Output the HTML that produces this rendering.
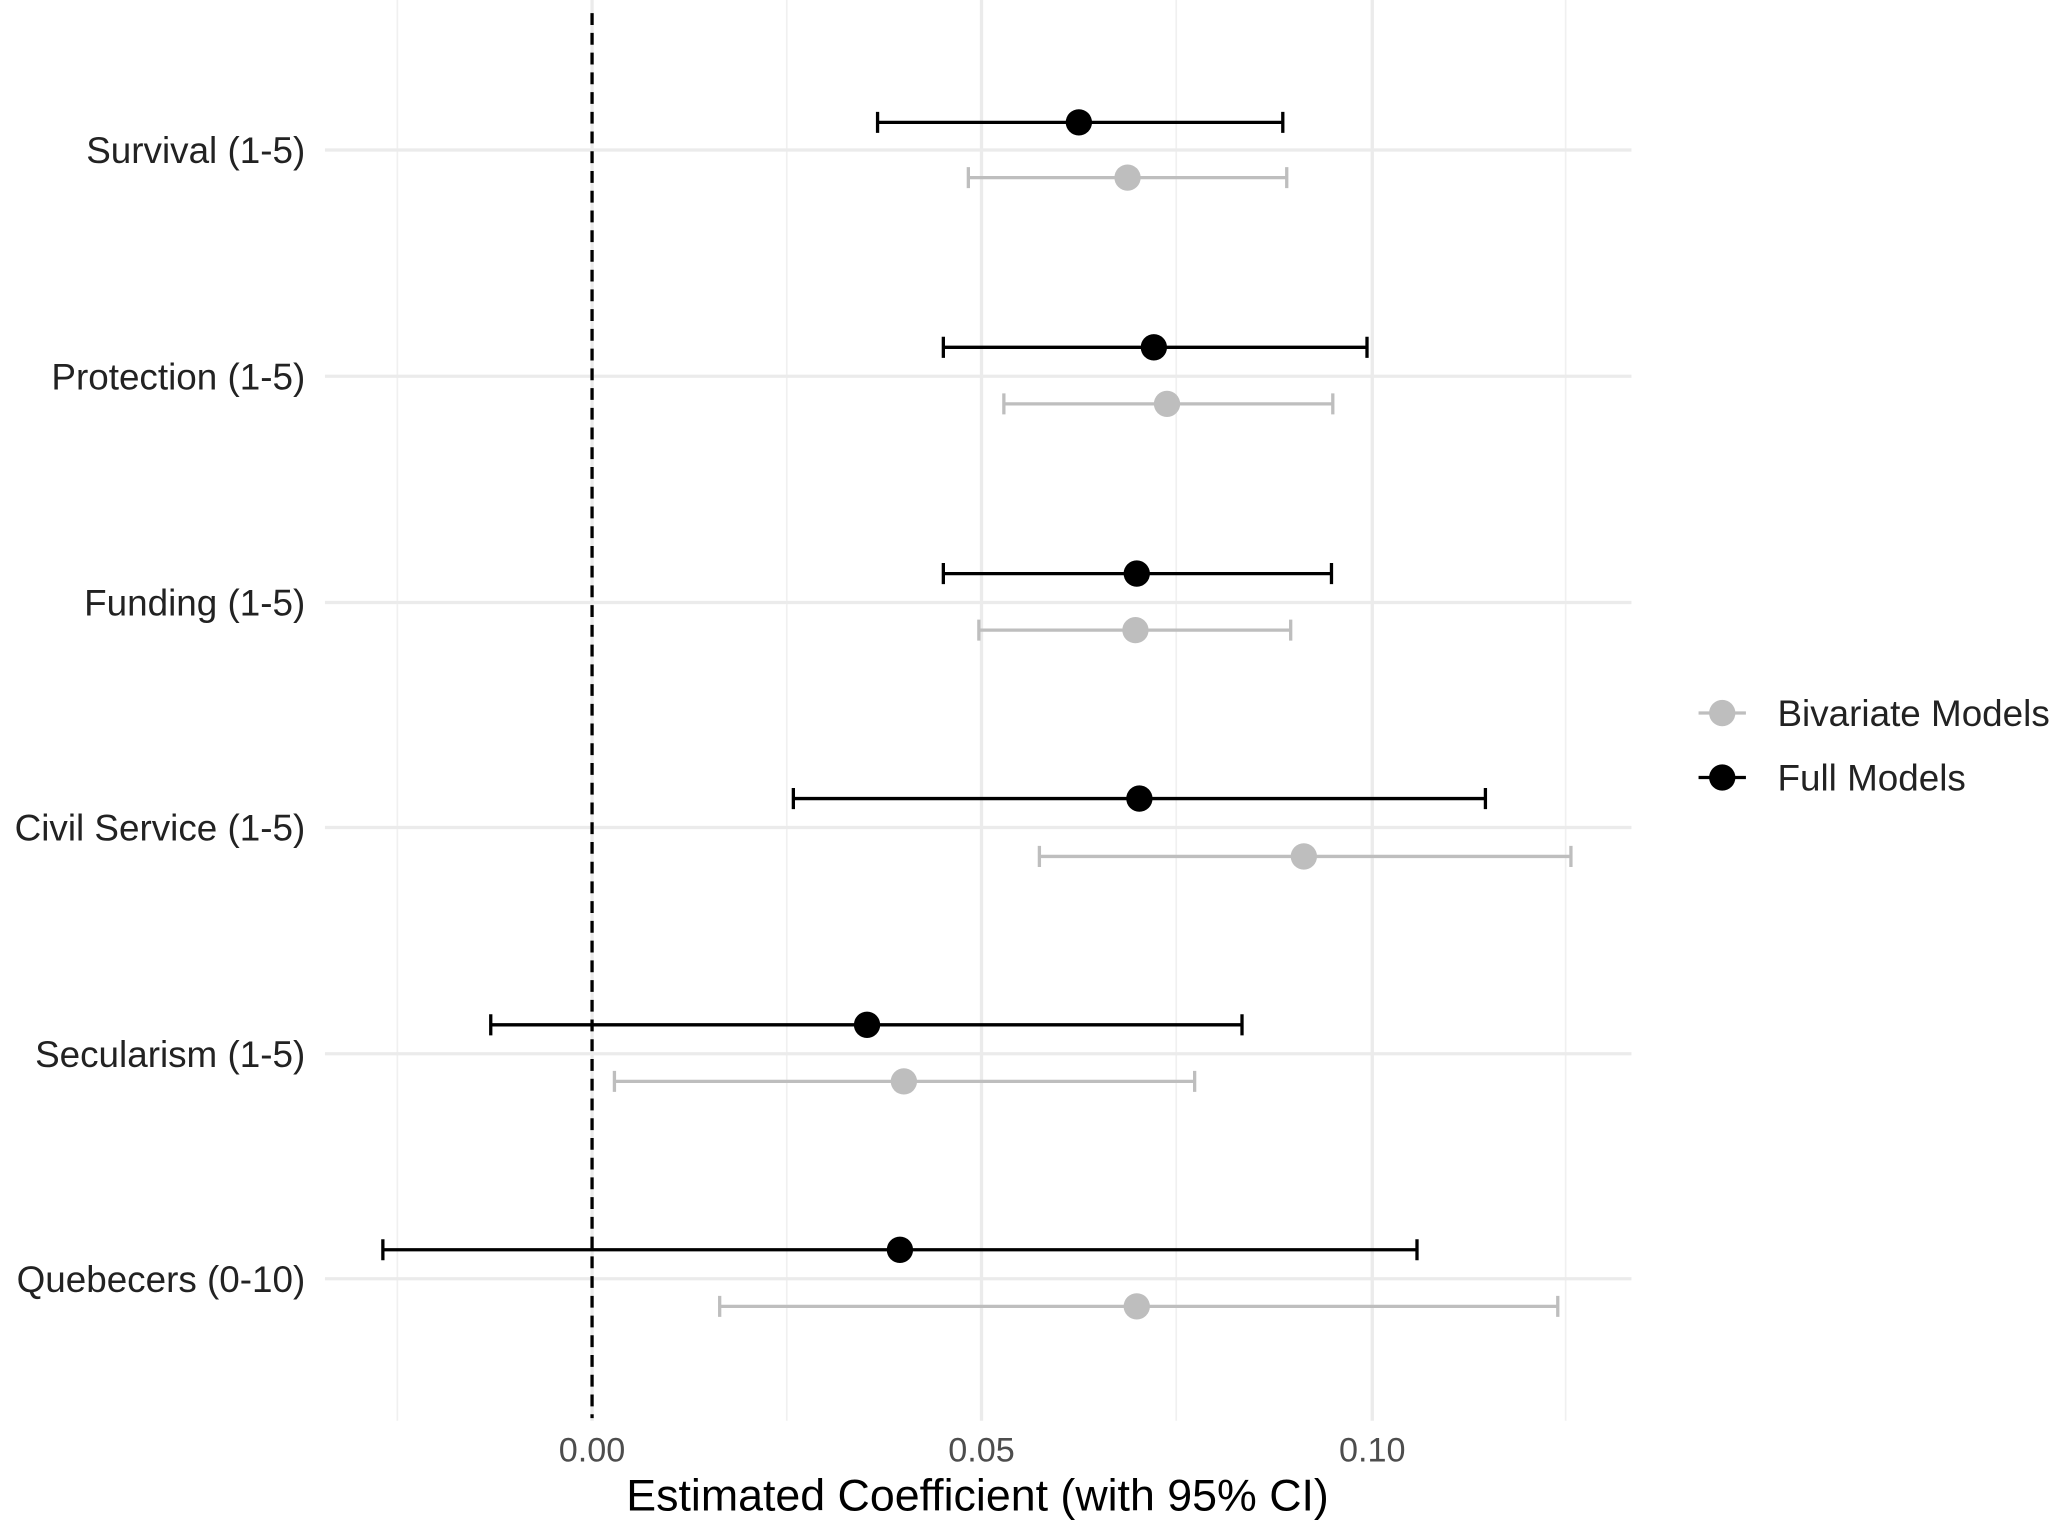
<!DOCTYPE html>
<html><head><meta charset="utf-8"><style>
html,body{margin:0;padding:0;background:#fff;}
svg{display:block;}
text{font-family:"Liberation Sans",sans-serif;}
</style></head><body>
<svg width="2063" height="1530" viewBox="0 0 1568 1163" preserveAspectRatio="none" xmlns="http://www.w3.org/2000/svg">
<rect width="1568" height="1163" fill="#fff"/>
<g stroke="#f0f0f0" stroke-width="1.3">
<line x1="302" y1="0" x2="302" y2="1080"/><line x1="598" y1="0" x2="598" y2="1080"/>
<line x1="894" y1="0" x2="894" y2="1080"/><line x1="1190" y1="0" x2="1190" y2="1080"/>
</g>
<g stroke="#ebebeb" stroke-width="2.5">
<line x1="746" y1="0" x2="746" y2="1080"/><line x1="1043" y1="0" x2="1043" y2="1080"/><line x1="450" y1="0" x2="450" y2="1080"/>
<line x1="247" y1="114" x2="1240" y2="114"/><line x1="247" y1="286" x2="1240" y2="286"/>
<line x1="247" y1="458" x2="1240" y2="458"/><line x1="247" y1="629" x2="1240" y2="629"/>
<line x1="247" y1="801" x2="1240" y2="801"/><line x1="247" y1="972" x2="1240" y2="972"/>
</g>
<line x1="450" y1="10" x2="450" y2="1078" stroke="#000" stroke-width="2.5" stroke-dasharray="9,6"/>
<g stroke="#bebebe" stroke-width="2.5" fill="#bebebe">
<path d="M736 135H978M736 127V143M978 127V143" fill="none"/><circle cx="857" cy="135" r="10" stroke="none"/>
<path d="M763 307H1013M763 299V315M1013 299V315" fill="none"/><circle cx="887" cy="307" r="10" stroke="none"/>
<path d="M744 479H981M744 471V487M981 471V487" fill="none"/><circle cx="863" cy="479" r="10" stroke="none"/>
<path d="M790 651H1194M790 643V659M1194 643V659" fill="none"/><circle cx="991" cy="651" r="10" stroke="none"/>
<path d="M467 822H908M467 814V830M908 814V830" fill="none"/><circle cx="687" cy="822" r="10" stroke="none"/>
<path d="M547 993H1184M547 985V1001M1184 985V1001" fill="none"/><circle cx="864" cy="993" r="10" stroke="none"/>
</g>
<g stroke="#000" stroke-width="2.5" fill="#000">
<path d="M667 93H975M667 85V101M975 85V101" fill="none"/><circle cx="820" cy="93" r="10" stroke="none"/>
<path d="M717 264H1039M717 256V272M1039 256V272" fill="none"/><circle cx="877" cy="264" r="10" stroke="none"/>
<path d="M717 436H1012M717 428V444M1012 428V444" fill="none"/><circle cx="864" cy="436" r="10" stroke="none"/>
<path d="M603 607H1129M603 599V615M1129 599V615" fill="none"/><circle cx="866" cy="607" r="10" stroke="none"/>
<path d="M373 779H944M373 771V787M944 771V787" fill="none"/><circle cx="659" cy="779" r="10" stroke="none"/>
<path d="M291 950H1077M291 942V958M1077 942V958" fill="none"/><circle cx="684" cy="950" r="10" stroke="none"/>
</g>
<g font-size="28" fill="#222" text-anchor="end">
<text x="232" y="124">Survival (1-5)</text>
<text x="232" y="296">Protection (1-5)</text>
<text x="232" y="468">Funding (1-5)</text>
<text x="232" y="639">Civil Service (1-5)</text>
<text x="232" y="811">Secularism (1-5)</text>
<text x="232" y="982">Quebecers (0-10)</text>
</g>
<g font-size="26" fill="#4d4d4d" text-anchor="middle">
<text x="450" y="1111">0.00</text><text x="746" y="1111">0.05</text><text x="1043" y="1111">0.10</text>
</g>
<text x="743" y="1148" font-size="34" fill="#000" text-anchor="middle">Estimated Coefficient (with 95% CI)</text>
<line x1="1291" y1="542" x2="1327" y2="542" stroke="#bebebe" stroke-width="2.5"/><circle cx="1309" cy="542" r="10" fill="#bebebe"/>
<line x1="1291" y1="591" x2="1327" y2="591" stroke="#000" stroke-width="2.5"/><circle cx="1309" cy="591" r="10" fill="#000"/>
<g font-size="28" fill="#222"><text x="1351" y="552">Bivariate Models</text><text x="1351" y="601">Full Models</text></g>
</svg>
</body></html>
